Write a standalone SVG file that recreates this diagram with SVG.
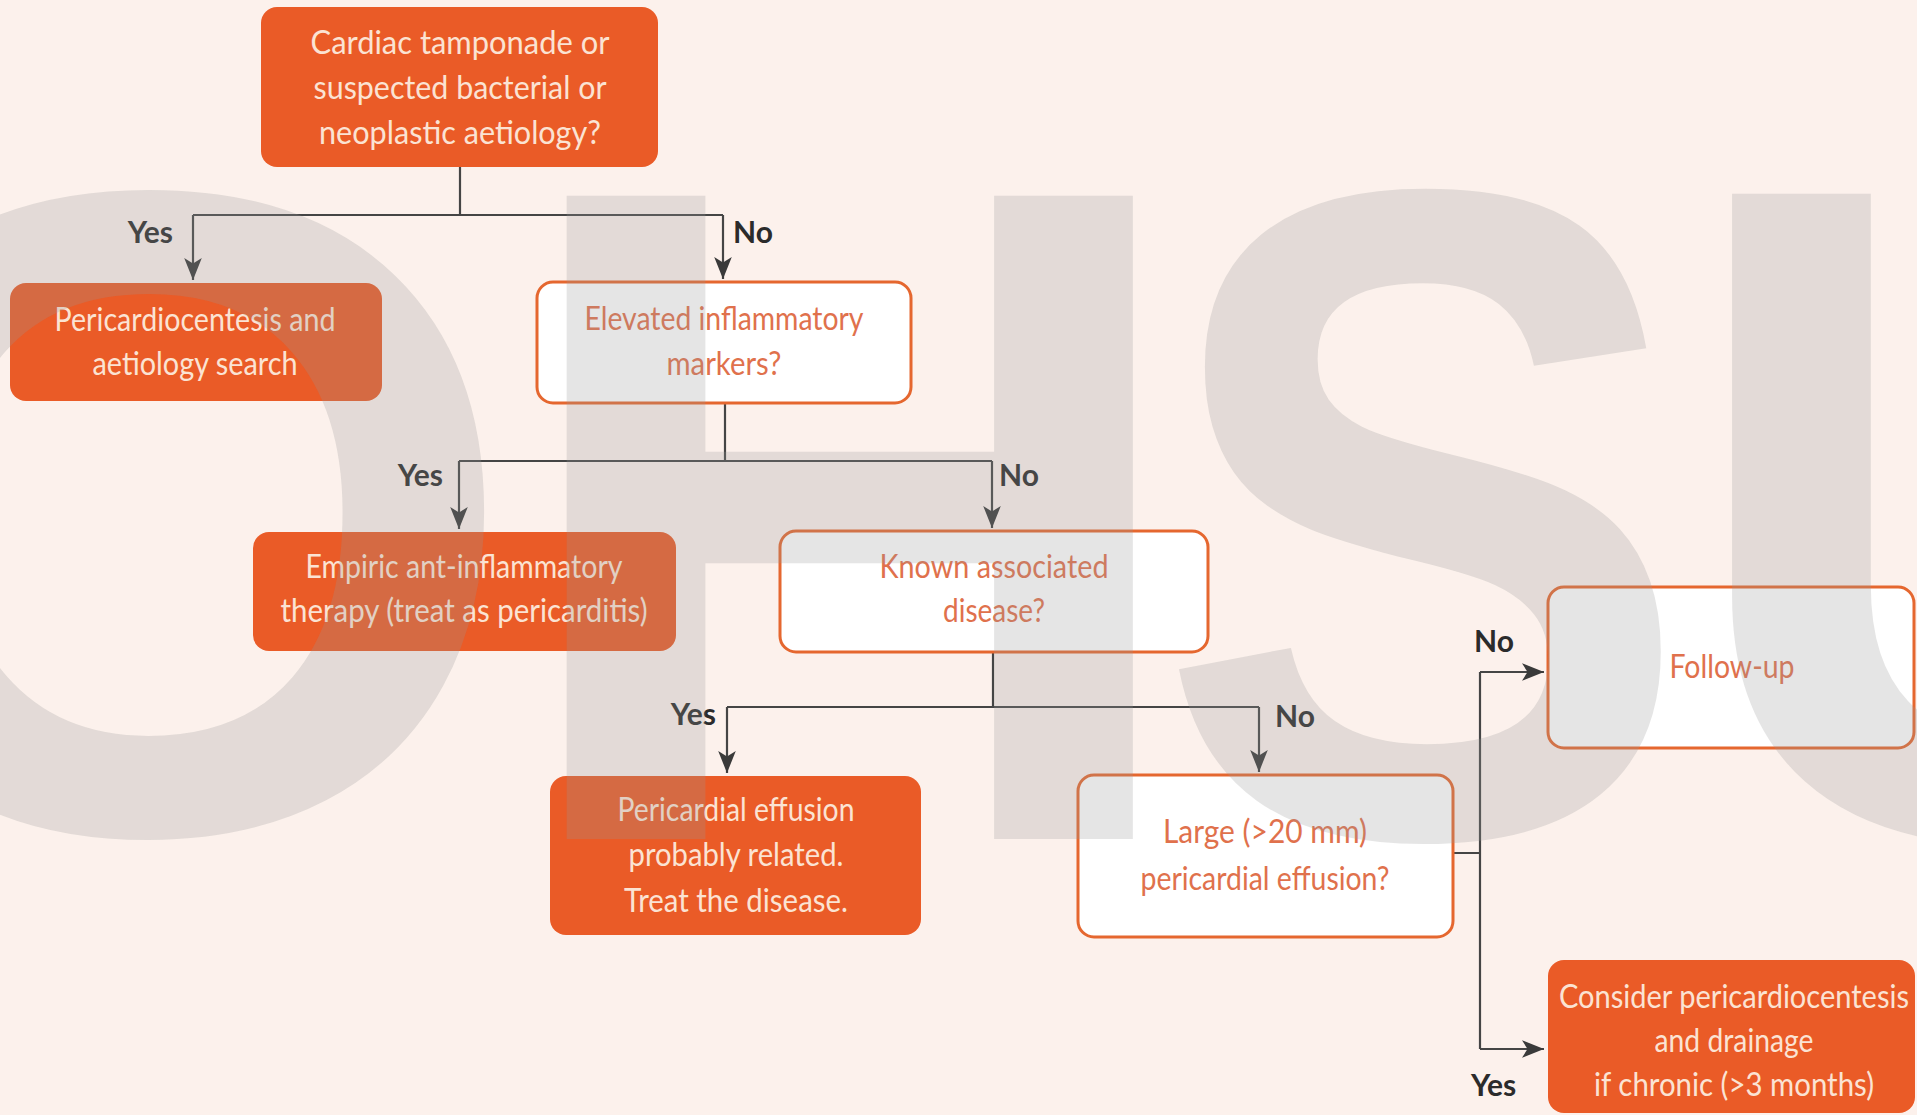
<svg xmlns="http://www.w3.org/2000/svg" width="1917" height="1115" viewBox="0 0 1917 1115">
<style>
  .bg { fill: #fcf1ec; }
  .solid { fill: #ea5b27; }
  .outline { fill: #ffffff; stroke: #e5672f; stroke-width: 3; }
  .t { font-family: Lato, "Liberation Sans", sans-serif; font-size: 32px; text-anchor: middle; }
  .tw { fill: #fbe3d3; }
  .to { fill: #e0714c; }
  .lbl { font-family: Lato, "Liberation Sans", sans-serif; font-size: 30px; font-weight: 700; fill: #2b2b2b; }
  .conn { fill: none; stroke: #454545; stroke-width: 2.2; }
  .wm { font-family: "Liberation Sans", Arial, sans-serif; font-weight: 700; font-size: 935px; text-anchor: middle; fill: #969696; fill-opacity: 0.25; }
</style>
<defs>
  <marker id="arr" markerUnits="userSpaceOnUse" markerWidth="22" markerHeight="18" viewBox="0 0 20 16" refX="20" refY="8" orient="auto">
    <path d="M0,0 L20,8 L0,16 L5,8 z" fill="#3a3a3a"/>
  </marker>
</defs>
<rect class="bg" x="0" y="0" width="1917" height="1115"/>

<g id="connectors">
  <path class="conn" d="M460,167 V215 M193,215 H723"/>
  <path class="conn" d="M193,215 V280" marker-end="url(#arr)"/>
  <path class="conn" d="M723,215 V279" marker-end="url(#arr)"/>
  <path class="conn" d="M725,403 V461 M459,461 H992"/>
  <path class="conn" d="M459,461 V529" marker-end="url(#arr)"/>
  <path class="conn" d="M992,461 V528" marker-end="url(#arr)"/>
  <path class="conn" d="M993,652 V707 M727,707 H1259"/>
  <path class="conn" d="M727,707 V773" marker-end="url(#arr)"/>
  <path class="conn" d="M1259,707 V772" marker-end="url(#arr)"/>
  <path class="conn" d="M1453,853 H1480 M1480,672 V1049"/>
  <path class="conn" d="M1480,672 H1544" marker-end="url(#arr)"/>
  <path class="conn" d="M1480,1049 H1544" marker-end="url(#arr)"/>
  <text class="lbl" x="173" y="243" text-anchor="end">Yes</text>
  <text class="lbl" x="733" y="243">No</text>
  <text class="lbl" x="443" y="486" text-anchor="end">Yes</text>
  <text class="lbl" x="999" y="486">No</text>
  <text class="lbl" x="716" y="725" text-anchor="end">Yes</text>
  <text class="lbl" x="1275" y="727">No</text>
  <text class="lbl" x="1474" y="652">No</text>
  <text class="lbl" x="1471" y="1096">Yes</text>
</g>

<g id="node-tamponade">
  <rect class="solid" x="261" y="7" width="397" height="160" rx="16"/>
  <text class="t tw" x="460" y="54" textLength="299" lengthAdjust="spacingAndGlyphs">Cardiac tamponade or</text>
  <text class="t tw" x="460" y="99" textLength="293" lengthAdjust="spacingAndGlyphs">suspected bacterial or</text>
  <text class="t tw" x="460" y="144" textLength="282" lengthAdjust="spacingAndGlyphs">neoplastic aetiology?</text>
</g>
<g id="node-pericardiocentesis">
  <rect class="solid" x="10" y="283" width="372" height="118" rx="16"/>
  <text class="t tw" x="195" y="331" textLength="281" lengthAdjust="spacingAndGlyphs">Pericardiocentesis and</text>
  <text class="t tw" x="195" y="375" textLength="205" lengthAdjust="spacingAndGlyphs">aetiology search</text>
</g>
<g id="node-inflammatory">
  <rect class="outline" x="537" y="282" width="374" height="121" rx="16"/>
  <text class="t to" x="724" y="330" textLength="279" lengthAdjust="spacingAndGlyphs">Elevated inflammatory</text>
  <text class="t to" x="724" y="375" textLength="115" lengthAdjust="spacingAndGlyphs">markers?</text>
</g>
<g id="node-empiric">
  <rect class="solid" x="253" y="532" width="423" height="119" rx="16"/>
  <text class="t tw" x="464" y="578" textLength="317" lengthAdjust="spacingAndGlyphs">Empiric ant-inflammatory</text>
  <text class="t tw" x="464" y="622" textLength="367" lengthAdjust="spacingAndGlyphs">therapy (treat as pericarditis)</text>
</g>
<g id="node-known">
  <rect class="outline" x="780" y="531" width="428" height="121" rx="16"/>
  <text class="t to" x="994" y="578" textLength="229" lengthAdjust="spacingAndGlyphs">Known associated</text>
  <text class="t to" x="994" y="622" textLength="102" lengthAdjust="spacingAndGlyphs">disease?</text>
</g>
<g id="node-related">
  <rect class="solid" x="550" y="776" width="371" height="159" rx="16"/>
  <text class="t tw" x="736" y="821" textLength="237" lengthAdjust="spacingAndGlyphs">Pericardial effusion</text>
  <text class="t tw" x="736" y="866" textLength="215" lengthAdjust="spacingAndGlyphs">probably related.</text>
  <text class="t tw" x="736" y="912" textLength="224" lengthAdjust="spacingAndGlyphs">Treat the disease.</text>
</g>
<g id="node-large">
  <rect class="outline" x="1078" y="775" width="375" height="162" rx="16"/>
  <text class="t to" x="1265" y="843" textLength="204" lengthAdjust="spacingAndGlyphs">Large (&gt;20 mm)</text>
  <text class="t to" x="1265" y="890" textLength="249" lengthAdjust="spacingAndGlyphs">pericardial effusion?</text>
</g>
<g id="node-followup">
  <rect class="outline" x="1548" y="587" width="366" height="161" rx="16"/>
  <text class="t to" x="1732" y="678" textLength="125" lengthAdjust="spacingAndGlyphs">Follow-up</text>
</g>
<g id="node-drainage">
  <rect class="solid" x="1548" y="960" width="367" height="153" rx="16"/>
  <text class="t tw" x="1734" y="1008" textLength="350" lengthAdjust="spacingAndGlyphs">Consider pericardiocentesis</text>
  <text class="t tw" x="1734" y="1052" textLength="159" lengthAdjust="spacingAndGlyphs">and drainage</text>
  <text class="t tw" x="1734" y="1096" textLength="280" lengthAdjust="spacingAndGlyphs">if chronic (&gt;3 months)</text>
</g>

<g id="watermark">
  <text class="wm" transform="translate(150,831) scale(1.03,0.982)">O</text>
  <text class="wm" transform="translate(850,839) scale(1.03,1)">H</text>
  <text class="wm" transform="translate(1424,835) scale(0.86,0.99)">S</text>
  <text class="wm" transform="translate(2022,837) scale(1.03,1)">U</text>
</g>
</svg>
